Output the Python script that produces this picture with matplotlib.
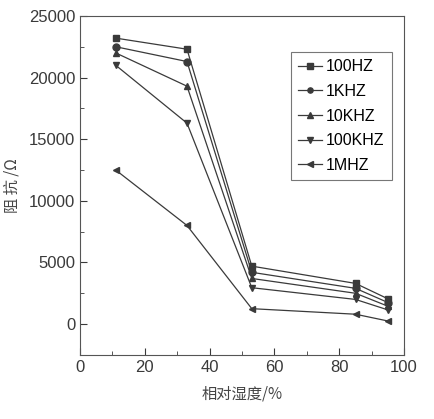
import numpy as np
import matplotlib.pyplot as plt
from matplotlib.ticker import MultipleLocator

humidity = [11, 33, 53, 85, 95]
z_100hz = [23200, 22300, 4700, 3300, 2050]
z_1khz = [22500, 21300, 4200, 2900, 1750]
z_10khz = [22000, 19300, 3700, 2500, 1450]
z_100khz = [21000, 16300, 2950, 2000, 1150]
z_1mhz = [12500, 8000, 1250, 800, 250]

series = [("100HZ", z_100hz, "s"), ("1KHZ", z_1khz, "o"), ("10KHZ", z_10khz, "^"),
          ("100KHZ", z_100khz, "v"), ("1MHZ", z_1mhz, "<")]

plt.rcParams['font.family'] = ['Liberation Sans', 'Noto Sans CJK SC', 'DejaVu Sans']

fig = plt.figure(figsize=(4.35, 4.19), dpi=100)
ax = fig.add_axes([0.184, 0.153, 0.745, 0.809])

col = "#3a3a3a"
for name, vals, m in series:
    ax.plot(humidity, vals, marker=m, color=col, lw=0.9, markersize=5, label=name)

ax.set_xlim(0, 100)
ax.set_ylim(-2500, 25000)
ax.xaxis.set_major_locator(MultipleLocator(20))
ax.xaxis.set_minor_locator(MultipleLocator(10))
ax.yaxis.set_major_locator(MultipleLocator(5000))
ax.yaxis.set_minor_locator(MultipleLocator(2500))
ax.tick_params(which='both', direction='in', top=False, right=False, colors=col, labelsize=12)
ax.tick_params(which='major', length=5)
ax.tick_params(which='minor', length=3)
for s in ax.spines.values():
    s.set_color("#555555")

ax.set_xlabel("相对湿度/%", fontsize=11, color="#444444", family=['Noto Sans CJK SC', 'DejaVu Sans'], labelpad=8)
ax.set_ylabel("阻 抗 /Ω", fontsize=11, color="#444444", family=['Noto Sans CJK SC', 'DejaVu Sans'], labelpad=6)

leg = ax.legend(loc='upper right', bbox_to_anchor=(0.962, 0.893), fontsize=11.5, frameon=True,
                fancybox=False, edgecolor="#555555", handlelength=1.5, labelspacing=0.6,
                borderpad=0.45, handletextpad=0.25, markerscale=0.75, borderaxespad=0)
leg.get_frame().set_linewidth(0.8)

fig.savefig("out.png", dpi=100)
